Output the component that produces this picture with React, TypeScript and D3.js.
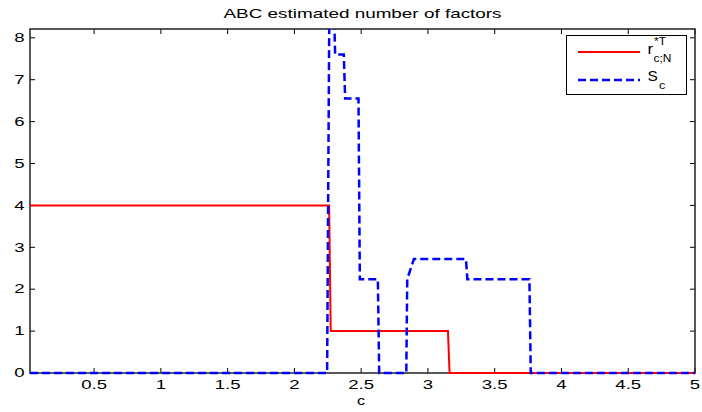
import React, { useEffect, useRef } from "react";
import * as d3 from "d3";

// red series: r*T_{c;N}
const redC = [0.02, 2.26, 2.272, 3.15, 3.162, 5];
const redR = [4, 4, 1, 1, 0, 0];

// blue series: S_c
const blueC = [0.02, 2.245, 2.262, 2.295, 2.305, 2.37, 2.38, 2.48, 2.49, 2.625, 2.635, 2.838, 2.845, 2.895, 3.285, 3.295, 3.76, 3.77, 5];
const blueS = [0, 0, 8.9, 8.9, 7.6, 7.6, 6.55, 6.55, 2.24, 2.24, 0, 0, 2.24, 2.72, 2.72, 2.24, 2.24, 0, 0];

const xTicks = [0.5, 1, 1.5, 2, 2.5, 3, 3.5, 4, 4.5, 5];
const yTicks = [0, 1, 2, 3, 4, 5, 6, 7, 8];

const App = () => {
  const ref = useRef<SVGSVGElement>(null);

  useEffect(() => {
    const svg = d3.select(ref.current);
    svg.selectAll("*").remove();

    const left = 30, right = 695, top = 29, bottom = 373;
    const font = "Liberation Sans, Arial, sans-serif";

    const x = d3.scaleLinear().domain([0.02, 5]).range([left, right]);
    const y = d3.scaleLinear().domain([0, 8.21]).range([bottom, top]);

    // text that is stretched sideways like the original
    const label = (parent: any, px: number, py: number, txt: string, size: number, sx: number, anchor = "start") =>
      parent.append("text")
        .attr("transform", `translate(${px},${py}) scale(${sx},1)`)
        .attr("text-anchor", anchor)
        .style("font-family", font)
        .style("font-size", size + "px")
        .text(txt);

    svg.append("rect").attr("width", 702).attr("height", 412).attr("fill", "#fff");

    svg.append("defs").append("clipPath").attr("id", "plotclip")
      .append("rect")
      .attr("x", left - 2).attr("y", top)
      .attr("width", right - left + 4).attr("height", bottom - top + 3);

    label(svg, (left + right) / 2, 18, "ABC estimated number of factors", 13.5, 1.4, "middle");
    label(svg, 361, 405, "c", 12.5, 1.3, "middle");

    const g = svg.append("g");

    // ticks (inward, on all four sides)
    const tl = 5;
    xTicks.forEach((t) => {
      g.append("line").attr("x1", x(t)).attr("x2", x(t)).attr("y1", bottom).attr("y2", bottom - tl).attr("stroke", "#000");
      g.append("line").attr("x1", x(t)).attr("x2", x(t)).attr("y1", top).attr("y2", top + tl).attr("stroke", "#000");
      label(g, x(t), 389, String(t), 12, 1.55, "middle");
    });
    yTicks.forEach((t) => {
      g.append("line").attr("x1", left).attr("x2", left + tl).attr("y1", y(t)).attr("y2", y(t)).attr("stroke", "#000");
      g.append("line").attr("x1", right).attr("x2", right - tl).attr("y1", y(t)).attr("y2", y(t)).attr("stroke", "#000");
      label(g, 24.5, y(t) + 4.3, String(t), 12, 1.55, "end");
    });

    // axes box
    svg.append("rect")
      .attr("x", left).attr("y", top)
      .attr("width", right - left).attr("height", bottom - top)
      .attr("fill", "none").attr("stroke", "#222").attr("stroke-width", 1.5);

    const line = d3.line<[number, number]>().x((d) => x(d[0])).y((d) => y(d[1]));

    const plot = svg.append("g").attr("clip-path", "url(#plotclip)");
    plot.append("path")
      .attr("d", line(redC.map((c, i) => [c, redR[i]])))
      .attr("fill", "none").attr("stroke", "#ff0000").attr("stroke-width", 2);
    plot.append("path")
      .attr("d", line(blueC.map((c, i) => [c, blueS[i]])))
      .attr("fill", "none").attr("stroke", "#0000ff").attr("stroke-width", 2.5)
      .attr("stroke-dasharray", "8,4");

    // legend
    const lg = svg.append("g");
    lg.append("rect")
      .attr("x", 566.5).attr("y", 35.5).attr("width", 120).attr("height", 59)
      .attr("fill", "#fff").attr("stroke", "#000").attr("stroke-width", 1);
    lg.append("line").attr("x1", 578).attr("x2", 640).attr("y1", 52).attr("y2", 52)
      .attr("stroke", "#ff0000").attr("stroke-width", 2);
    lg.append("line").attr("x1", 578).attr("x2", 640).attr("y1", 80).attr("y2", 80)
      .attr("stroke", "#0000ff").attr("stroke-width", 2.5).attr("stroke-dasharray", "8,4");

    label(lg, 647.5, 54, "r", 14, 1.2);
    label(lg, 654, 45, "*T", 10, 1.2);
    label(lg, 653.5, 62, "c;N", 10, 1.2);
    label(lg, 647.5, 81, "S", 14, 1.1);
    label(lg, 659, 88.5, "c", 10.5, 1.2);
  }, []);

  return (
    <svg
      ref={ref}
      width={702}
      height={412}
      style={{ position: "absolute", left: 0, top: 0 }}
    />
  );
};

export default App;
